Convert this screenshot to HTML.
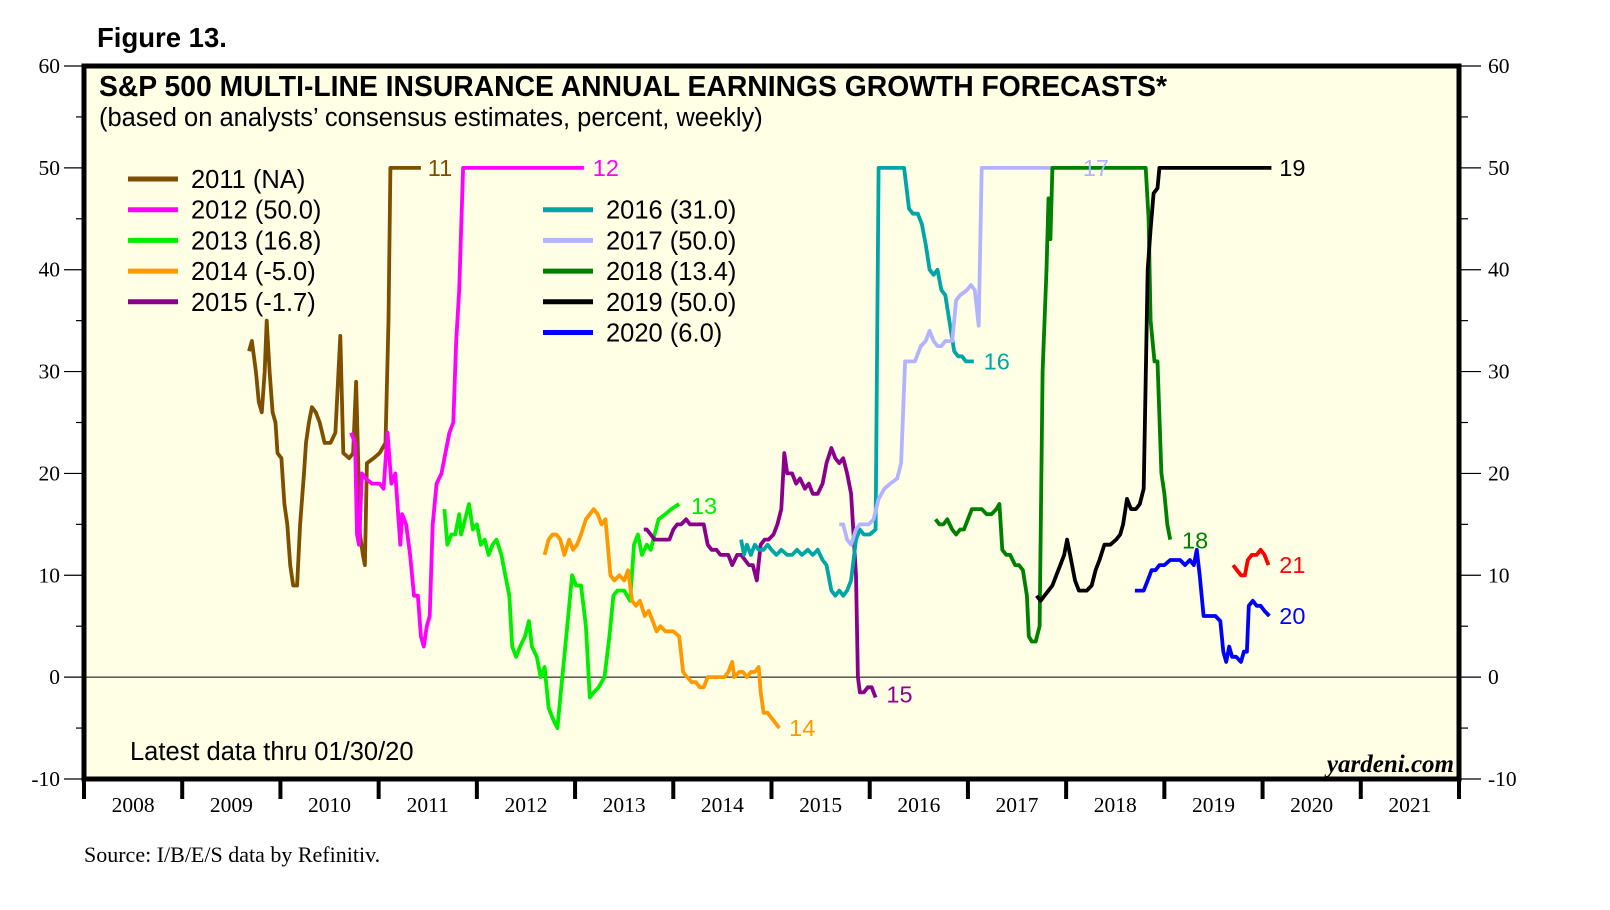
<!DOCTYPE html>
<html><head><meta charset="utf-8"><style>
body{margin:0;background:#fff;}
svg{display:block;}
</style></head><body>
<svg id="chart" width="1610" height="910" xmlns="http://www.w3.org/2000/svg"></svg>
<script>
const yearTicks=[2008,2009,2010,2011,2012,2013,2014,2015,2016,2017,2018,2019,2020,2021];
const yTickValues=[-10,0,10,20,30,40,50,60];
const seriesNames=["2011","2012","2013","2014","2015","2016","2017","2018","2019","2020","2021"];
const seriesColors=["#7f4f00","#ff00ff","#00ee00","#ff9900","#8b008b","#00a6a6","#b3b3ff","#008000","#000000","#0000ff","#ff0000"];
const s2011=[[2009.68,32],[2009.71,33],[2009.75,30],[2009.78,27],[2009.81,26],[2009.84,30],[2009.86,35],[2009.89,30],[2009.92,26],[2009.95,25],[2009.97,22],[2010.01,21.5],[2010.04,17],[2010.07,15],[2010.10,11],[2010.13,9],[2010.17,9],[2010.20,15],[2010.24,20],[2010.26,23],[2010.29,25],[2010.32,26.5],[2010.36,26],[2010.40,25],[2010.45,23],[2010.51,23],[2010.56,24],[2010.61,33.5],[2010.64,22],[2010.70,21.5],[2010.74,22],[2010.77,29],[2010.79,22],[2010.81,14],[2010.84,12],[2010.86,11],[2010.88,21],[2010.95,21.5],[2011.01,22],[2011.07,23],[2011.10,35],[2011.12,50],[2011.43,50]];
const s2012=[[2010.72,24],[2010.76,23],[2010.78,14],[2010.80,13],[2010.83,20],[2010.87,19.5],[2010.93,19],[2011.01,19],[2011.05,18.5],[2011.09,24],[2011.13,19],[2011.17,20],[2011.22,13],[2011.24,16],[2011.28,15],[2011.32,12],[2011.36,8],[2011.40,8],[2011.43,4],[2011.46,3],[2011.49,5],[2011.52,6],[2011.55,15],[2011.59,19],[2011.64,20],[2011.68,22],[2011.72,24],[2011.76,25],[2011.79,33],[2011.82,38],[2011.86,50],[2013.09,50]];
const s2013=[[2011.67,16.5],[2011.70,13],[2011.74,14],[2011.78,14],[2011.82,16],[2011.84,14],[2011.88,15.5],[2011.92,17],[2011.96,14.5],[2012.00,15],[2012.04,13],[2012.08,13.5],[2012.12,12],[2012.16,13],[2012.20,13.5],[2012.25,12],[2012.29,10],[2012.33,8],[2012.36,3],[2012.40,2],[2012.44,3],[2012.49,4],[2012.53,5.5],[2012.56,3],[2012.61,2],[2012.65,0],[2012.69,1],[2012.73,-3],[2012.77,-4],[2012.82,-5],[2012.86,-1],[2012.89,2],[2012.94,7],[2012.97,10],[2013.01,9],[2013.06,9],[2013.11,5],[2013.15,-2],[2013.19,-1.5],[2013.24,-1],[2013.30,0],[2013.35,4],[2013.39,8],[2013.43,8.5],[2013.50,8.5],[2013.56,7.5],[2013.60,13],[2013.64,14],[2013.68,12],[2013.73,13],[2013.77,12.5],[2013.81,14],[2013.85,15.5],[2013.92,16],[2013.98,16.5],[2014.06,17]];
const s2014=[[2012.69,12],[2012.73,13.5],[2012.77,14],[2012.81,14],[2012.85,13.5],[2012.89,12],[2012.94,13.5],[2012.98,12.5],[2013.02,13],[2013.06,14],[2013.11,15.5],[2013.15,16],[2013.19,16.5],[2013.23,16],[2013.27,15],[2013.31,15.5],[2013.36,10],[2013.40,9.5],[2013.45,10],[2013.50,9.5],[2013.54,10.5],[2013.58,7.5],[2013.62,7],[2013.66,7.5],[2013.71,6],[2013.75,6.5],[2013.79,5.5],[2013.83,4.5],[2013.87,5],[2013.92,4.5],[2013.96,4.5],[2014.00,4.5],[2014.06,4],[2014.10,0.5],[2014.14,0],[2014.19,-0.5],[2014.23,-0.5],[2014.27,-1],[2014.31,-1],[2014.35,0],[2014.39,0],[2014.44,0],[2014.48,0],[2014.52,0],[2014.56,0.5],[2014.60,1.5],[2014.62,0],[2014.67,0.5],[2014.71,0.5],[2014.75,0],[2014.79,0.5],[2014.83,0.5],[2014.87,1],[2014.89,-1.5],[2014.92,-3.5],[2014.96,-3.5],[2015.00,-4],[2015.04,-4.5],[2015.08,-5]];
const s2015=[[2013.70,14.5],[2013.73,14.5],[2013.77,14],[2013.81,13.5],[2013.85,13.5],[2013.90,13.5],[2013.96,13.5],[2014.00,14.5],[2014.04,15],[2014.08,15],[2014.13,15.5],[2014.17,15],[2014.22,15],[2014.27,15],[2014.31,15],[2014.35,13],[2014.39,12.5],[2014.44,12.5],[2014.48,12],[2014.52,12],[2014.56,12],[2014.60,11],[2014.65,12],[2014.69,12],[2014.73,11.5],[2014.77,11],[2014.81,11],[2014.85,9.5],[2014.89,13],[2014.93,13.5],[2014.97,13.5],[2015.02,14],[2015.06,15],[2015.10,16.5],[2015.13,22],[2015.16,20],[2015.21,20],[2015.25,19],[2015.29,19.5],[2015.34,18.5],[2015.38,19],[2015.42,18],[2015.47,18],[2015.52,19],[2015.56,21],[2015.61,22.5],[2015.65,21.5],[2015.69,21],[2015.73,21.5],[2015.77,20],[2015.81,18],[2015.86,10],[2015.88,0],[2015.90,-1.5],[2015.94,-1.5],[2015.98,-1],[2016.02,-1],[2016.06,-2]];
const s2016=[[2014.69,13.5],[2014.72,12],[2014.75,13],[2014.79,12],[2014.83,13],[2014.87,12.5],[2014.92,12.5],[2014.96,13],[2015.00,12.5],[2015.05,12],[2015.10,12.5],[2015.16,12],[2015.21,12],[2015.26,12.5],[2015.31,12],[2015.37,12.5],[2015.42,12],[2015.47,12.5],[2015.52,11.5],[2015.56,11],[2015.61,8.5],[2015.65,8],[2015.69,8.5],[2015.73,8],[2015.77,8.5],[2015.81,9.5],[2015.86,13.5],[2015.90,14.5],[2015.94,14],[2016.00,14],[2016.06,14.5],[2016.09,50],[2016.35,50],[2016.40,46],[2016.44,45.5],[2016.49,45.5],[2016.53,44.5],[2016.57,42.5],[2016.61,40],[2016.65,39.5],[2016.69,40],[2016.73,38],[2016.77,37.5],[2016.81,35],[2016.86,32],[2016.90,31.5],[2016.94,31.5],[2016.98,31],[2017.02,31],[2017.06,31]];
const s2017=[[2015.69,15],[2015.73,15],[2015.77,13.5],[2015.81,13],[2015.86,14.5],[2015.90,15],[2015.94,15],[2015.99,15],[2016.04,15.5],[2016.09,17.5],[2016.15,18.5],[2016.21,19],[2016.28,19.5],[2016.32,21],[2016.36,31],[2016.40,31],[2016.46,31],[2016.52,32.5],[2016.57,33],[2016.61,34],[2016.65,33],[2016.69,32.5],[2016.73,32.5],[2016.77,33],[2016.84,33],[2016.88,37],[2016.92,37.5],[2016.99,38],[2017.03,38.5],[2017.07,38],[2017.11,34.5],[2017.14,50],[2017.86,50]];
const s2018=[[2016.67,15.5],[2016.71,15],[2016.75,15],[2016.79,15.5],[2016.84,14.5],[2016.88,14],[2016.92,14.5],[2016.96,14.5],[2017.00,15.5],[2017.04,16.5],[2017.09,16.5],[2017.14,16.5],[2017.19,16],[2017.24,16],[2017.29,16.5],[2017.32,17],[2017.35,12.5],[2017.39,12],[2017.43,12],[2017.48,11],[2017.52,11],[2017.56,10.5],[2017.60,8],[2017.62,4],[2017.65,3.5],[2017.69,3.5],[2017.73,5],[2017.76,30],[2017.80,40],[2017.82,47],[2017.84,43],[2017.86,50],[2018.81,50],[2018.84,45],[2018.86,35],[2018.90,31],[2018.93,31],[2018.97,20],[2019.00,18],[2019.03,15],[2019.06,13.5]];
const s2019=[[2017.70,8],[2017.74,7.5],[2017.78,8],[2017.82,8.5],[2017.86,9],[2017.90,10],[2017.94,11],[2017.98,12],[2018.01,13.5],[2018.05,11.5],[2018.09,9.5],[2018.13,8.5],[2018.17,8.5],[2018.21,8.5],[2018.26,9],[2018.30,10.5],[2018.34,11.5],[2018.39,13],[2018.45,13],[2018.51,13.5],[2018.55,14],[2018.58,15],[2018.62,17.5],[2018.66,16.5],[2018.71,16.5],[2018.75,17],[2018.79,18.5],[2018.83,40],[2018.86,44],[2018.89,47.5],[2018.93,48],[2018.95,50],[2020.09,50]];
const s2020=[[2018.70,8.5],[2018.75,8.5],[2018.79,8.5],[2018.83,9.5],[2018.87,10.5],[2018.91,10.5],[2018.95,11],[2019.00,11],[2019.06,11.5],[2019.11,11.5],[2019.16,11.5],[2019.21,11],[2019.26,11.5],[2019.30,11],[2019.33,12.5],[2019.36,10],[2019.40,6],[2019.44,6],[2019.48,6],[2019.52,6],[2019.57,5.5],[2019.60,2.5],[2019.63,1.5],[2019.66,3],[2019.69,2],[2019.73,2],[2019.78,1.5],[2019.81,2.5],[2019.84,2.5],[2019.86,7],[2019.90,7.5],[2019.94,7],[2019.98,7],[2020.02,6.5],[2020.07,6]];
const s2021=[[2019.70,11],[2019.74,10.5],[2019.78,10],[2019.82,10],[2019.85,11.5],[2019.89,12],[2019.94,12],[2019.98,12.5],[2020.02,12],[2020.06,11]];
const seriesData=[s2011,s2012,s2013,s2014,s2015,s2016,s2017,s2018,s2019,s2020,s2021];
const endLabels=["11","12","13","14","15","16","17","18","19","20","21"];
const endLabelX=[2011.50,2013.18,2014.18,2015.18,2016.17,2017.16,2018.17,2019.18,2020.17,2020.17,2020.17];
const endLabelY=[50,50,16.8,-5,-1.7,31,50,13.4,50,6,11];
const legendLabels=["2011 (NA)","2012 (50.0)","2013 (16.8)","2014 (-5.0)","2015 (-1.7)","2016 (31.0)","2017 (50.0)","2018 (13.4)","2019 (50.0)","2020 (6.0)"];

const NS="http://www.w3.org/2000/svg";
const svg=document.getElementById('chart');
const L=84,R=1459,T=66,B=779;
const X=v=>L+(v-2008)/14*(R-L);
const Y=v=>T+(60-v)/70*(B-T);
function mk(tag,attrs,parent){const e=document.createElementNS(NS,tag);for(const k in attrs)e.setAttribute(k,attrs[k]);(parent||svg).appendChild(e);return e;}
function txt(s,attrs,parent){const e=mk('text',attrs,parent);e.textContent=s;return e;}

let e;
e=mk('rect',{x:L,y:T,width:R-L,height:B-T,fill:'#ffffe6'});


e=txt('Figure 13.',{x:97,y:47,'font-family':'Liberation Sans, sans-serif','font-size':27.5,'font-weight':'bold'});


e=txt('S&P 500 MULTI-LINE INSURANCE ANNUAL EARNINGS GROWTH FORECASTS*',{x:99,y:96,'font-family':'Liberation Sans, sans-serif','font-size':28.3,'font-weight':'bold'});


e=txt('(based on analysts\u2019 consensus estimates, percent, weekly)',{x:99,y:126,'font-family':'Liberation Sans, sans-serif','font-size':25.5});



e=mk('line',{x1:L,x2:R,y1:Y(0),y2:Y(0),stroke:'#000','stroke-width':1});



for(let v=-10;v<=60;v+=5){
  const major=v%10===0;
  e=mk('line',{x1:major?64:76,x2:L,y1:Y(v),y2:Y(v),stroke:'#000','stroke-width':1.2});
  
  
  e=mk('line',{x1:R,x2:major?1481:1468,y1:Y(v),y2:Y(v),stroke:'#000','stroke-width':1.2});
  
  
}
yTickValues.forEach(v=>{
  e=txt(String(v),{x:60,y:Y(v)+7,'text-anchor':'end','font-family':'Liberation Serif, serif','font-size':21.5});
  
  
  e=txt(String(v),{x:1488,y:Y(v)+7,'font-family':'Liberation Serif, serif','font-size':21.5});
  
  
});
for(let yr=2008;yr<=2022;yr++){
  e=mk('line',{x1:X(yr),x2:X(yr),y1:B,y2:B+20,stroke:'#000','stroke-width':4});
  
  
}
yearTicks.forEach(yr=>{
  e=txt(String(yr),{x:X(yr+0.5),y:812,'text-anchor':'middle','font-family':'Liberation Serif, serif','font-size':21.5});
  
  
});

seriesData.forEach((d,i)=>{
  const p=mk('polyline',{points:d.map(q=>X(q[0]).toFixed(1)+','+Y(q[1]).toFixed(1)).join(' '),fill:'none',stroke:seriesColors[i],'stroke-width':3.8,'stroke-linejoin':'round'});
  
  
});
endLabels.forEach((s,i)=>{
  e=txt(s,{x:X(endLabelX[i]),y:Y(endLabelY[i])+8,'font-family':'Liberation Sans, sans-serif','font-size':23.5,fill:seriesColors[i]});
  
  
});
legendLabels.forEach((s,i)=>{
  const col=i<5?0:1, row=i<5?i:i-4;
  const lx=col?543:128, ly=179+row*30.7;
  const g=mk('g',{});
  
  
  mk('line',{x1:lx,x2:lx+50,y1:ly,y2:ly,stroke:seriesColors[i],'stroke-width':5},g);
  txt(s,{x:lx+63,y:ly+9,'font-family':'Liberation Sans, sans-serif','font-size':25.5},g);
});
e=txt('Latest data thru 01/30/20',{x:130,y:760,'font-family':'Liberation Sans, sans-serif','font-size':25.5});


e=txt('yardeni.com',{x:1454,y:772,'text-anchor':'end','font-family':'Liberation Serif, serif','font-size':25,'font-style':'italic','font-weight':'bold'});


e=mk('rect',{x:L,y:T,width:R-L,height:B-T,fill:'none',stroke:'#000','stroke-width':5});


e=txt('Source: I/B/E/S data by Refinitiv.',{x:84,y:862,'font-family':'Liberation Serif, serif','font-size':22});


</script>
</body></html>
